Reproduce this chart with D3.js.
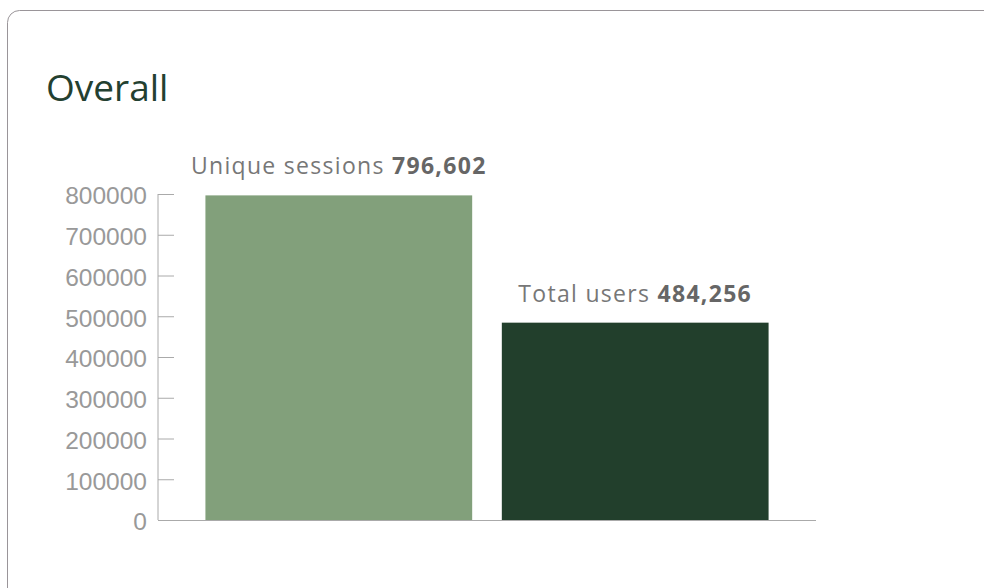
<!DOCTYPE html>
<html>
<head>
<meta charset="utf-8">
<script src="https://cdn.jsdelivr.net/npm/d3@7"></script>
<style>
  body { margin: 0; background: #fff; }
  svg { display: block; }
</style>
</head>
<body>
<div id="container"></div>
<script>
const categories = ["Unique sessions", "Total users"];
const values = [796602, 484256];
const colors = ["#82a07b", "#223f2c"];
const tickValues = [0, 100000, 200000, 300000, 400000, 500000, 600000, 700000, 800000];

const width = 984, height = 588;

const svg = d3.select("div#container")
    .append("svg")
    .attr("width", width)
    .attr("height", height);

// card outline
svg.append("rect")
    .attr("x", 7.5).attr("y", 10.5)
    .attr("width", 1000).attr("height", 590)
    .attr("rx", 12)
    .attr("fill", "#fff")
    .attr("stroke", "#9a9599");

svg.append("text")
    .attr("x", 46).attr("y", 101)
    .attr("fill", "#234030")
    .style("font-family", "'Open Sans', 'Noto Sans', sans-serif")
    .style("font-size", "37px")
    .text("Overall");

const x = d3.scaleBand()
    .domain(categories)
    .range([158, 816])
    .paddingInner(0.1)
    .paddingOuter(0.16);

const y = d3.scaleLinear()
    .domain([0, 800000])
    .range([520, 194]);

// y axis, ticks pointing inward
const yAxis = svg.append("g")
    .attr("transform", "translate(158,0)")
    .call(d3.axisRight(y).tickValues(tickValues).tickSize(16).tickFormat(d3.format("d")));
yAxis.select(".domain").attr("stroke", "#aaa").attr("d", "M0,194V520");
yAxis.selectAll(".tick line").attr("stroke", "#aaa");
yAxis.selectAll(".tick text")
    .attr("x", -11)
    .attr("dy", "0.4em")
    .attr("text-anchor", "end")
    .attr("fill", "#999")
    .style("font-family", "'Liberation Sans', Arial, sans-serif")
    .style("font-size", "24.5px");

// x baseline
svg.append("line")
    .attr("x1", 158).attr("x2", 816)
    .attr("y1", y(0) + 0.5).attr("y2", y(0) + 0.5)
    .attr("stroke", "#aaa");

svg.selectAll("rect.bar")
    .data(categories)
    .join("rect")
    .attr("class", "bar")
    .attr("x", d => x(d))
    .attr("width", x.bandwidth())
    .attr("y", (d, i) => y(values[i]))
    .attr("height", (d, i) => y(0) - y(values[i]))
    .attr("fill", (d, i) => colors[i]);

const fmt = d3.format(",");
const label = svg.selectAll("text.lbl")
    .data(categories)
    .join("text")
    .attr("class", "lbl")
    .attr("x", d => x(d) + x.bandwidth() / 2)
    .attr("y", (d, i) => y(values[i]) - 21)
    .attr("text-anchor", "middle")
    .style("font-family", "'Open Sans', 'Noto Sans', sans-serif")
    .style("font-size", "23px")
    .style("letter-spacing", "1.3px");
label.append("tspan").attr("fill", "#777").text(d => d + " ");
label.append("tspan").attr("fill", "#666").attr("font-weight", "bold").text((d, i) => fmt(values[i]));
</script>
</body>
</html>
